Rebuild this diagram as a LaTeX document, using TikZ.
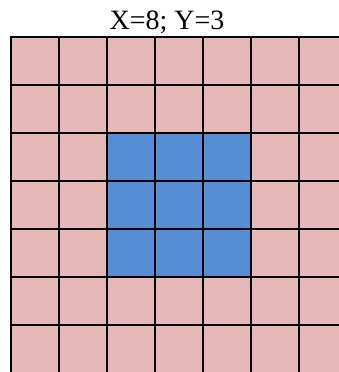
\documentclass[tikz,border=0pt]{standalone}
\usepackage{fontspec}
\setmainfont{Liberation Serif}
\usetikzlibrary{positioning}
\definecolor{cellpink}{RGB}{230,184,183}
\definecolor{cellblue}{RGB}{85,142,213}

\begin{document}
\begin{tikzpicture}[x=0.75pt,y=-0.75pt]
\useasboundingbox (0,0) rectangle (339,372);
\clip (0,0) rectangle (339,372);
 \begin{scope}[every node/.style={rectangle,draw=black,line width=1.5pt,minimum size=36pt,inner sep=0pt}]
  \foreach \i in {1,...,7}
   \foreach \j in {1,...,7}{
    \def\cellfill{cellpink}
    \ifnum\i>2 \ifnum\i<6 \ifnum\j>2 \ifnum\j<6 \def\cellfill{cellblue}\fi\fi\fi\fi
    \node (c\i\j) [fill=\cellfill] at ({35+48*(\i-1)},{61+48*(\j-1)}) {};
   }
 \end{scope}
 \node (title) [anchor=base,font=\fontsize{21}{25}\selectfont] at (167,29) {X=8; Y=3};
\end{tikzpicture}
\end{document}
